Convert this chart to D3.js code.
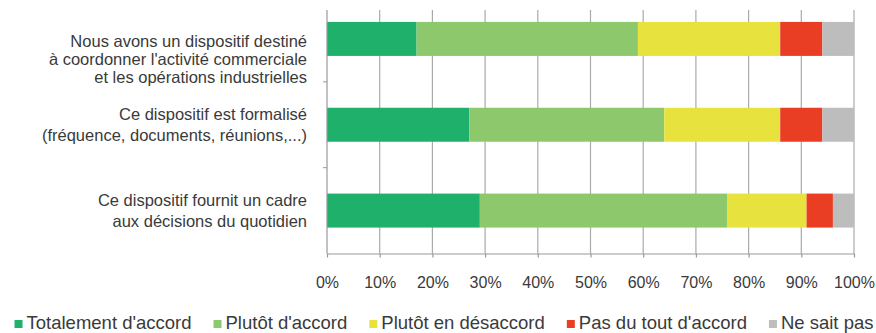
<!DOCTYPE html>
<html>
<head>
<meta charset="utf-8">
<script src="https://cdn.jsdelivr.net/npm/d3@7"></script>
<style>
    body { margin: 0; background: #fff; }
    svg { font-family: "Liberation Sans", Arial, sans-serif; }
</style>
</head>
<body>
<div class="bar_chart"></div>
<script>
// question labels (one entry per line)
const categories = [
    ["Nous avons un dispositif destiné", "à coordonner l'activité commerciale", "et les opérations industrielles"],
    ["Ce dispositif est formalisé", "(fréquence, documents, réunions,...)"],
    ["Ce dispositif fournit un cadre", "aux décisions du quotidien"]
];
const seriesNames = ["Totalement d'accord", "Plutôt d'accord", "Plutôt en désaccord", "Pas du tout d'accord", "Ne sait pas"];
const totalement = [17, 27, 29];
const plutot = [42, 37, 47];
const desaccord = [27, 22, 15];
const pasDuTout = [8, 8, 5];
const neSaitPas = [6, 6, 4];
const xTicks = [0, 10, 20, 30, 40, 50, 60, 70, 80, 90, 100];
const colors = ["#1fb06c", "#8dc86d", "#e7e23d", "#ea3e24", "#bdbdbd"];

const table = categories.map((c, i) => ({
    key: i,
    [seriesNames[0]]: totalement[i],
    [seriesNames[1]]: plutot[i],
    [seriesNames[2]]: desaccord[i],
    [seriesNames[3]]: pasDuTout[i],
    [seriesNames[4]]: neSaitPas[i]
}));

const width = 876, height = 333;
const plotLeft = 327, plotRight = 854, plotTop = -4, gridTop = 10, plotBottom = 253.5;

let svg = d3.select(".bar_chart")
    .append("svg")
    .attr("width", width)
    .attr("height", height);

let xScale = d3.scaleLinear()
    .domain([0, 100])
    .range([plotLeft, plotRight]);

let yScale = d3.scaleBand()
    .domain(table.map(d => d.key))
    .range([plotTop, plotBottom])
    .paddingInner(0.604)
    .paddingOuter(0.302);

let cScale = d3.scaleOrdinal()
    .domain(seriesNames)
    .range(colors);

// vertical gridlines
svg.append("g")
    .selectAll("line")
    .data(xTicks.slice(1))
    .join("line")
    .attr("x1", d => xScale(d))
    .attr("x2", d => xScale(d))
    .attr("y1", gridTop)
    .attr("y2", plotBottom)
    .attr("stroke", "#aaaaaa")
    .attr("stroke-width", 1.2);

// stacked bars
let stackedData = d3.stack().keys(seriesNames)(table);

svg.append("g")
    .selectAll("g")
    .data(stackedData)
    .join("g")
    .attr("fill", d => cScale(d.key))
    .selectAll("rect")
    .data(d => d)
    .join("rect")
    .attr("x", d => xScale(d[0]))
    .attr("width", d => xScale(d[1]) - xScale(d[0]))
    .attr("y", d => yScale(d.data.key))
    .attr("height", yScale.bandwidth());

// left axis line with separator ticks
let step = yScale.step();
svg.append("line")
    .attr("x1", plotLeft).attr("x2", plotLeft)
    .attr("y1", gridTop).attr("y2", plotBottom)
    .attr("stroke", "#999").attr("stroke-width", 1.2);

svg.append("g")
    .selectAll("line")
    .data(table.slice(1))
    .join("line")
    .attr("x1", plotLeft - 4)
    .attr("x2", plotLeft)
    .attr("y1", d => yScale(d.key) - step * yScale.paddingInner() / 2)
    .attr("y2", d => yScale(d.key) - step * yScale.paddingInner() / 2)
    .attr("stroke", "#999");

// bottom axis
const xAxis = d3.axisBottom(xScale)
    .tickValues(xTicks)
    .tickFormat(d => d + "%")
    .tickSizeInner(4)
    .tickSizeOuter(0)
    .tickPadding(19);

let xDisplay = svg.append("g")
    .attr("transform", `translate(0, ${plotBottom})`)
    .call(xAxis);

xDisplay.select(".domain").attr("stroke", "#999").attr("stroke-width", 1.2);
xDisplay.selectAll(".tick line").attr("stroke", "#999").attr("stroke-width", 1.2);
xDisplay.selectAll(".tick text")
    .attr("fill", "#3a3a3a")
    .style("font-size", "16px")
    .style("font-family", "'Liberation Sans', Arial, sans-serif");

// category labels
let labels = svg.append("g")
    .selectAll("text")
    .data(categories)
    .join("text")
    .attr("text-anchor", "end")
    .attr("fill", "#3a3a3a")
    .style("font-size", "16.5px");

labels.each(function(lines, i) {
    let lh = lines.length > 2 ? 17.8 : 21.6;
    let center = yScale(i) + yScale.bandwidth() / 2;
    let first = Math.max(center - (lines.length - 1) * lh / 2, 41.7);
    d3.select(this)
        .selectAll("tspan")
        .data(lines)
        .join("tspan")
        .attr("x", 307)
        .attr("y", (d, j) => first + j * lh)
        .attr("dy", "0.35em")
        .text(d => d);
});

// legend
let legend = svg.append("g");
let items = legend.selectAll("g")
    .data(seriesNames)
    .join("g");

items.append("rect")
    .attr("width", 8)
    .attr("height", 8)
    .attr("y", -9)
    .attr("fill", d => cScale(d));

items.append("text")
    .attr("x", 12)
    .attr("fill", "#3a3a3a")
    .style("font-size", "18.5px")
    .text(d => d);

let offset = 0;
items.each(function() {
    let w = d3.select(this).select("text").node().getComputedTextLength() + 12;
    d3.select(this).attr("transform", `translate(${offset}, 0)`);
    offset += w + 22;
});
offset -= 22;
legend.attr("transform", `translate(${444 - offset / 2}, 329)`);
</script>
</body>
</html>
